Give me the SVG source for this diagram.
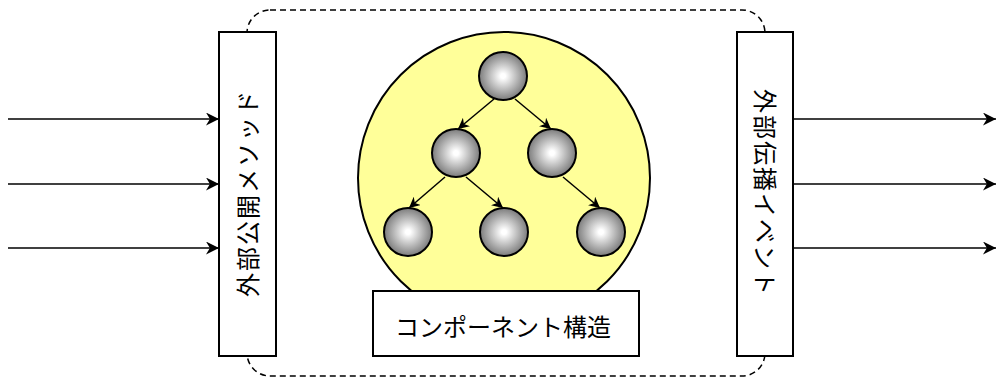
<svg xmlns="http://www.w3.org/2000/svg" width="996" height="378" viewBox="0 0 996 378">
<style>
.box{fill:#fff;stroke:#000;stroke-width:2}
.ball{fill:url(#g);stroke:#000;stroke-width:2}
.ln{stroke:#000;stroke-width:1.5;fill:none}
.t{font-family:"Noto Sans CJK JP","Liberation Sans",sans-serif;font-size:24px;fill:#000;text-anchor:middle;dominant-baseline:central}
.v{letter-spacing:2px}
</style>
<defs>
<radialGradient id="g" cx="50%" cy="50%" r="50%">
<stop offset="0" stop-color="#fff"/>
<stop offset="0.1" stop-color="#fff"/>
<stop offset="1" stop-color="#7c7c7c"/>
</radialGradient>
<marker id="a" viewBox="0 0 10 10" refX="10" refY="5" markerWidth="11" markerHeight="11" markerUnits="userSpaceOnUse" orient="auto">
<path d="M0,0 L10,5 L0,10 L3,5 Z" fill="#000"/>
</marker>
<marker id="b" viewBox="0 0 10 10" refX="10" refY="5" markerWidth="13" markerHeight="13" markerUnits="userSpaceOnUse" orient="auto">
<path d="M0,0 L10,5 L0,10 L3,5 Z" fill="#000"/>
</marker>
</defs>
<rect id="boundary" x="247" y="10" width="518" height="366" rx="23" fill="none" stroke="#000" stroke-width="1.5" stroke-dasharray="6,4"/>
<g id="structure">
<circle cx="504" cy="178" r="146" fill="#ffff99" stroke="#000" stroke-width="2"/>
</g>
<g id="connectors">
<line class="ln" x1="8" y1="119" x2="219" y2="119" marker-end="url(#b)"/>
<line class="ln" x1="8" y1="184" x2="219" y2="184" marker-end="url(#b)"/>
<line class="ln" x1="8" y1="248" x2="219" y2="248" marker-end="url(#b)"/>
<line class="ln" x1="793" y1="119" x2="996" y2="119" marker-end="url(#b)"/>
<line class="ln" x1="793" y1="184" x2="996" y2="184" marker-end="url(#b)"/>
<line class="ln" x1="793" y1="248" x2="996" y2="248" marker-end="url(#b)"/>
<line class="ln" x1="494" y1="99" x2="458" y2="129" marker-end="url(#a)"/>
<line class="ln" x1="515" y1="99" x2="551" y2="129" marker-end="url(#a)"/>
<line class="ln" x1="445" y1="177" x2="409" y2="208" marker-end="url(#a)"/>
<line class="ln" x1="466" y1="177" x2="503" y2="208" marker-end="url(#a)"/>
<line class="ln" x1="563" y1="177" x2="600" y2="208" marker-end="url(#a)"/>
</g>
<g id="n1"><circle class="ball" cx="503" cy="76" r="24"/></g>
<g id="n2"><circle class="ball" cx="456" cy="153" r="24"/></g>
<g id="n3"><circle class="ball" cx="552" cy="153" r="24"/></g>
<g id="n4"><circle class="ball" cx="408" cy="232" r="24"/></g>
<g id="n5"><circle class="ball" cx="504" cy="232" r="24"/></g>
<g id="n6"><circle class="ball" cx="601" cy="232" r="24"/></g>
<g id="methods">
<rect class="box" x="219" y="32" width="57" height="324"/>
<text class="t v" transform="translate(246,193) rotate(-90)">外部公開メソッド</text>
</g>
<g id="events">
<rect class="box" x="737" y="32" width="56" height="324"/>
<text class="t v" transform="translate(766,193) rotate(90)">外部伝播イベント</text>
</g>
<g id="component">
<rect class="box" x="373" y="291" width="266" height="65"/>
<text class="t" x="503" y="325">コンポーネント構造</text>
</g>
</svg>
